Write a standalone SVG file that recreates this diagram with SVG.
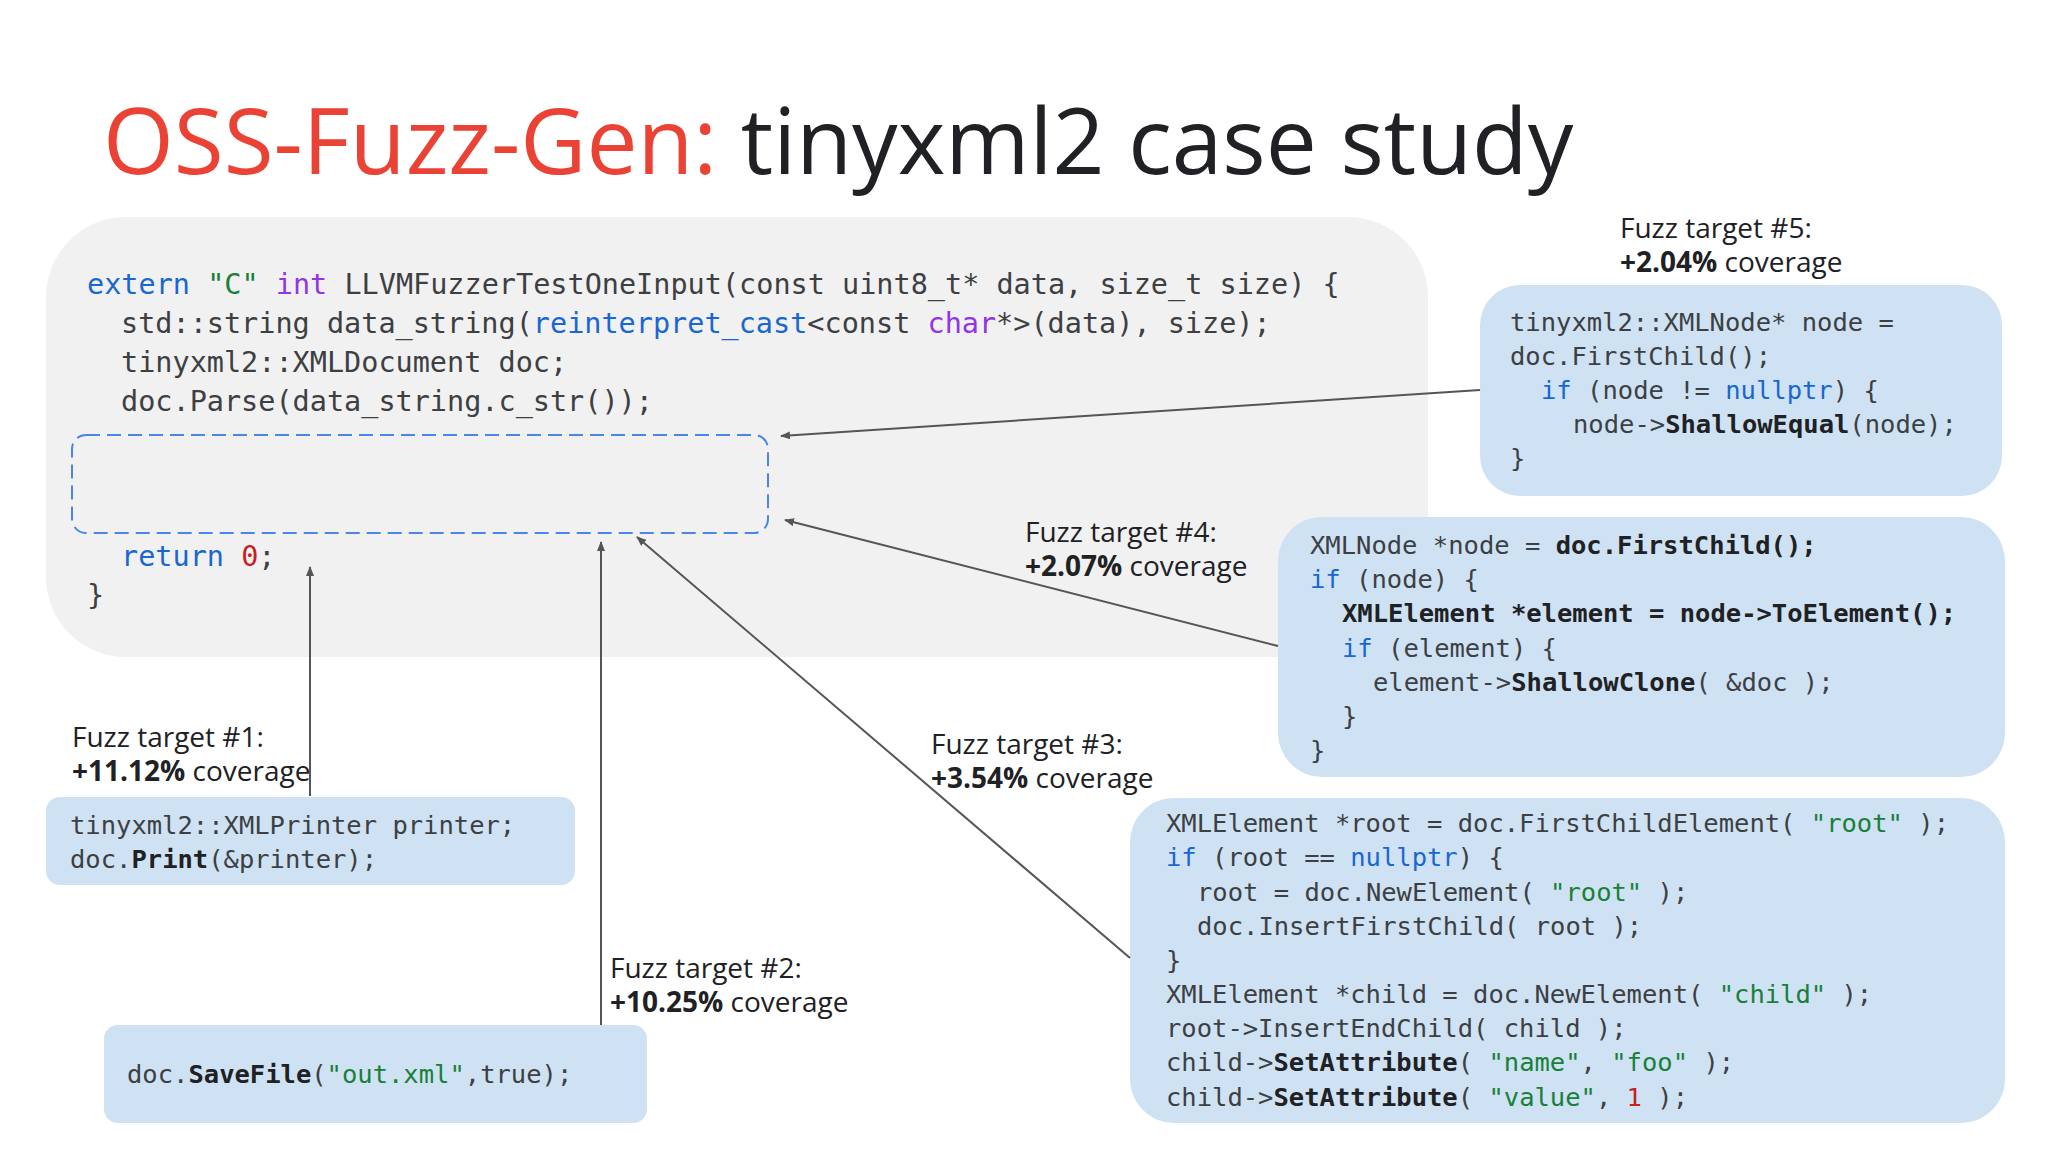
<svg xmlns="http://www.w3.org/2000/svg" width="2048" height="1152" viewBox="0 0 2048 1152">
<style>
.c{font-family:"DejaVu Sans Mono","Liberation Mono",monospace;fill:#3c4043;white-space:pre}
.m{font-size:28.5px}
.s{font-size:25.5px}
.k{fill:#1967d2}.p{fill:#9334e6}.g{fill:#188038}.r{fill:#c5221f}.b{font-weight:bold;fill:#202124}
.l{font-family:"Open Sans","Liberation Sans",sans-serif;font-size:28px;fill:#202124}
.box{fill:#cfe2f3}
.a{stroke:#555;stroke-width:2;fill:none;marker-end:url(#ah)}
</style>
<defs><marker id="ah" markerWidth="10" markerHeight="8" refX="9" refY="4" orient="auto" markerUnits="userSpaceOnUse"><path d="M0,0 L10,4 L0,8 z" fill="#555"/></marker></defs>
<rect width="2048" height="1152" fill="#fff"/>
<text x="103" y="174" font-family="Open Sans,Liberation Sans,sans-serif" font-size="91" fill="#ea4335">OSS-Fuzz-Gen: <tspan fill="#202124">tinyxml2 case study</tspan></text>
<g id="main">
<rect x="46" y="217" width="1382" height="440" rx="80" fill="#f1f1f1"/>
<text class="c m" x="87" y="294"><tspan class="k">extern</tspan> <tspan class="g">"C"</tspan> <tspan class="p">int</tspan> LLVMFuzzerTestOneInput(const uint8_t* data, size_t size) {</text>
<text class="c m" x="121" y="333">std::string data_string(<tspan class="k">reinterpret_cast</tspan>&lt;const <tspan class="p">char</tspan>*&gt;(data), size);</text>
<text class="c m" x="121" y="372">tinyxml2::XMLDocument doc;</text>
<text class="c m" x="121" y="411">doc.Parse(data_string.c_str());</text>
<rect x="72" y="435" width="696" height="98" rx="14" fill="none" stroke="#4a86e8" stroke-width="2" stroke-dasharray="14,7"/>
<text class="c m" x="121" y="566"><tspan class="k">return</tspan> <tspan class="r">0</tspan>;</text>
<text class="c m" x="87" y="605">}</text>
</g>
<g id="t5">
<rect class="box" x="1480" y="285" width="522" height="211" rx="40"/>
<text class="c s" x="1510" y="331">tinyxml2::XMLNode* node =</text>
<text class="c s" x="1510" y="365">doc.FirstChild();</text>
<text class="c s" x="1541" y="399"><tspan class="k">if</tspan> (node != <tspan class="k">nullptr</tspan>) {</text>
<text class="c s" x="1573" y="433">node-&gt;<tspan class="b">ShallowEqual</tspan>(node);</text>
<text class="c s" x="1510" y="467">}</text>
<text class="l" x="1620" y="238">Fuzz target #5:</text>
<text class="l" x="1620" y="272"><tspan font-weight="bold">+2.04%</tspan> coverage</text>
</g>
<g id="t4">
<rect class="box" x="1278" y="517" width="727" height="260" rx="44"/>
<text class="c s" x="1310" y="554">XMLNode *node = <tspan class="b">doc.FirstChild();</tspan></text>
<text class="c s" x="1310" y="588"><tspan class="k">if</tspan> (node) {</text>
<text class="c s b" x="1342" y="622">XMLElement *element = node-&gt;ToElement();</text>
<text class="c s" x="1342" y="657"><tspan class="k">if</tspan> (element) {</text>
<text class="c s" x="1373" y="691">element-&gt;<tspan class="b">ShallowClone</tspan>( &amp;doc );</text>
<text class="c s" x="1342" y="725">}</text>
<text class="c s" x="1310" y="759">}</text>
<text class="l" x="1025" y="542">Fuzz target #4:</text>
<text class="l" x="1025" y="576"><tspan font-weight="bold">+2.07%</tspan> coverage</text>
</g>
<g id="t3">
<rect class="box" x="1130" y="798" width="875" height="325" rx="44"/>
<text class="c s" x="1166" y="832">XMLElement *root = doc.FirstChildElement( <tspan class="g">"root"</tspan> );</text>
<text class="c s" x="1166" y="866"><tspan class="k">if</tspan> (root == <tspan class="k">nullptr</tspan>) {</text>
<text class="c s" x="1197" y="901">root = doc.NewElement( <tspan class="g">"root"</tspan> );</text>
<text class="c s" x="1197" y="935">doc.InsertFirstChild( root );</text>
<text class="c s" x="1166" y="969">}</text>
<text class="c s" x="1166" y="1003">XMLElement *child = doc.NewElement( <tspan class="g">"child"</tspan> );</text>
<text class="c s" x="1166" y="1037">root-&gt;InsertEndChild( child );</text>
<text class="c s" x="1166" y="1071">child-&gt;<tspan class="b">SetAttribute</tspan>( <tspan class="g">"name"</tspan>, <tspan class="g">"foo"</tspan> );</text>
<text class="c s" x="1166" y="1106">child-&gt;<tspan class="b">SetAttribute</tspan>( <tspan class="g">"value"</tspan>, <tspan class="r">1</tspan> );</text>
<text class="l" x="931" y="754">Fuzz target #3:</text>
<text class="l" x="931" y="788"><tspan font-weight="bold">+3.54%</tspan> coverage</text>
</g>
<g id="t1">
<rect class="box" x="46" y="797" width="529" height="88" rx="14"/>
<text class="c s" x="70" y="834">tinyxml2::XMLPrinter printer;</text>
<text class="c s" x="70" y="868">doc.<tspan class="b">Print</tspan>(&amp;printer);</text>
<text class="l" x="72" y="747">Fuzz target #1:</text>
<text class="l" x="72" y="781"><tspan font-weight="bold">+11.12%</tspan> coverage</text>
</g>
<g id="t2">
<rect class="box" x="104" y="1025" width="543" height="98" rx="14"/>
<text class="c s" x="127" y="1083">doc.<tspan class="b">SaveFile</tspan>(<tspan class="g">"out.xml"</tspan>,true);</text>
<text class="l" x="610" y="978">Fuzz target #2:</text>
<text class="l" x="610" y="1012"><tspan font-weight="bold">+10.25%</tspan> coverage</text>
</g>
<g id="connectors">
<line class="a" x1="1480" y1="390" x2="781" y2="436"/>
<line class="a" x1="1278" y1="646" x2="785" y2="520"/>
<line class="a" x1="1130" y1="958" x2="637" y2="537"/>
<line class="a" x1="601" y1="1025" x2="601" y2="542"/>
<line class="a" x1="310" y1="796" x2="310" y2="567"/>
</g>
</svg>
